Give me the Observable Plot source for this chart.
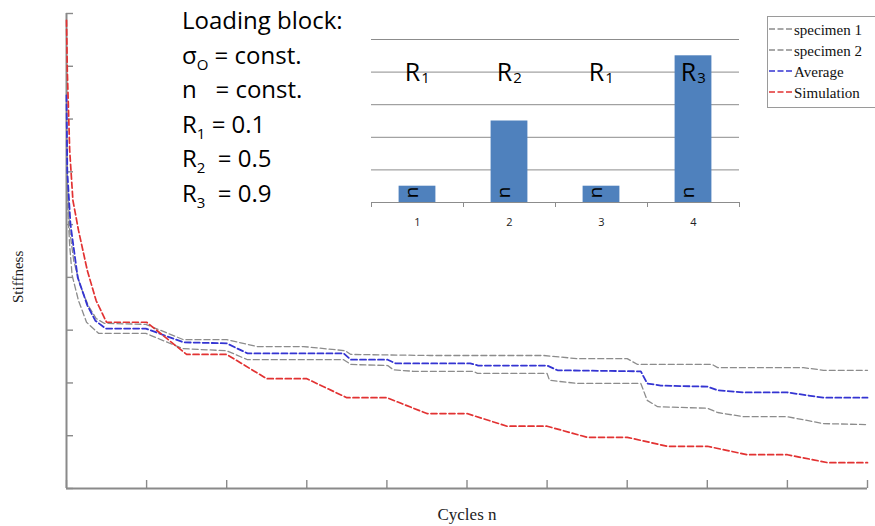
<!DOCTYPE html>
<html>
<head>
<meta charset="utf-8">
<script src="https://cdn.jsdelivr.net/npm/d3@7"></script>
<script src="https://cdn.jsdelivr.net/npm/@observablehq/plot@0.6"></script>
<style>
  html, body { margin: 0; padding: 0; background: #fff; overflow: hidden; }
  #wrap { position: relative; width: 875px; height: 526px; overflow: hidden; }
  #main { position: absolute; left: 0; top: 0; }
  #inset { position: absolute; left: 361px; top: 30px; }
  #inset svg, #main svg { display: block; }
  #note { position: absolute; left: 182px; top: 3px; font-family: 'Open Sans', sans-serif; font-size: 24px; line-height: 34.6px; white-space: pre; color: #000; }
  #note sub { font-size: 15px; vertical-align: -6px; line-height: 0; }
  #legend { position: absolute; left: 767px; top: 16px; width: 130px; height: 87px; border: 1px solid #9a9a9a; background: #fff; font-family: 'Liberation Serif', serif; font-size: 15px; line-height: 21px; padding-top: 3px; color: #111; }
  #legend .row { white-space: nowrap; padding-left: 1px; }
  #legend svg { vertical-align: 4px; margin-right: 1px; }
</style>
</head>
<body>
<div id="wrap">
  <div id="main"></div>
  <div id="note"></div>
  <div id="inset"></div>
  <div id="legend"></div>
</div>
<script>
// ---- main chart data (x: cycles n, y: stiffness, arbitrary units) ----
const xTicks = [0, 1, 2, 3, 4, 5, 6, 7, 8, 9, 10];
const yTicks = [0, 1, 2, 3, 4, 5, 6, 7, 8, 9];

const seriesNames = ["specimen 1", "specimen 2", "Average", "Simulation"];
const seriesColors = ["#8c8c8c", "#8c8c8c", "#3434d2", "#e23232"];

const cyclesS1 = [0, 0.01, 0.04, 0.09, 0.17, 0.27, 0.37, 0.47, 0.99, 1.46, 2.0, 2.38, 2.96, 3.48, 3.55, 4.54, 5.96, 6.38, 7.0, 7.13, 8.06, 8.13, 9.2, 9.45, 10];
const stiffS1  = [6.97, 5.84, 4.89, 4.32, 3.85, 3.47, 3.22, 3.13, 3.11, 2.82, 2.82, 2.69, 2.69, 2.61, 2.54, 2.52, 2.52, 2.46, 2.46, 2.35, 2.35, 2.29, 2.29, 2.24, 2.24];

const cyclesS2 = [0, 0.01, 0.04, 0.07, 0.15, 0.25, 0.40, 0.99, 1.45, 2.0, 2.26, 3.46, 3.55, 4.01, 4.08, 4.33, 5.08, 5.13, 6.0, 6.03, 6.38, 7.17, 7.25, 7.38, 8.0, 8.13, 8.45, 9.0, 9.45, 10];
const stiffS2  = [6.59, 5.46, 4.60, 4.04, 3.56, 3.15, 2.94, 2.94, 2.65, 2.61, 2.44, 2.44, 2.35, 2.33, 2.25, 2.22, 2.22, 2.18, 2.18, 2.05, 1.99, 1.99, 1.67, 1.55, 1.52, 1.44, 1.36, 1.36, 1.23, 1.21];

const cyclesAvg = [0, 0.01, 0.05, 0.14, 0.26, 0.36, 0.49, 0.99, 1.46, 2.0, 2.26, 3.46, 3.55, 4.01, 4.11, 5.04, 5.14, 6.0, 6.13, 7.17, 7.25, 7.42, 8.0, 8.13, 8.45, 9.0, 9.45, 10];
const stiffAvg  = [7.45, 6.01, 5.00, 4.00, 3.47, 3.18, 3.03, 3.03, 2.77, 2.75, 2.56, 2.56, 2.44, 2.44, 2.37, 2.37, 2.33, 2.33, 2.24, 2.22, 1.99, 1.95, 1.93, 1.86, 1.82, 1.82, 1.72, 1.72];

const cyclesSim = [0, 0.01, 0.04, 0.08, 0.15, 0.26, 0.37, 0.5, 1, 1.5, 2, 2.5, 3, 3.5, 4, 4.5, 5, 5.5, 6, 6.5, 7, 7.5, 8, 8.5, 9, 9.5, 10];
const stiffSim  = [8.87, 7.92, 6.40, 5.46, 4.89, 4.13, 3.56, 3.15, 3.15, 2.54, 2.54, 2.08, 2.08, 1.72, 1.72, 1.42, 1.42, 1.18, 1.18, 0.97, 0.97, 0.80, 0.80, 0.64, 0.64, 0.49, 0.49];

// ---- inset (loading block) data ----
const blocks = [1, 2, 3, 4];
const blockLoads = [0.5, 2.5, 0.5, 4.5];
const blockR = ["1", "2", "1", "3"];
const insetGrid = [1, 2, 3, 4, 5];
const insetEdges = [0.5, 1.5, 2.5, 3.5, 4.5];

// ---- annotation text ----
const noteLines = ["Loading block:", "σ<sub>O</sub> = const.", "n   = const.", "R<sub>1</sub> = 0.1", "R<sub>2</sub>  = 0.5", "R<sub>3</sub>  = 0.9"];

const toRows = (name, xs, ys) => xs.map((x, i) => ({name, x, y: ys[i]}));
const rowsS1 = toRows(seriesNames[0], cyclesS1, stiffS1);
const rowsS2 = toRows(seriesNames[1], cyclesS2, stiffS2);
const rowsAvg = toRows(seriesNames[2], cyclesAvg, stiffAvg);
const rowsSim = toRows(seriesNames[3], cyclesSim, stiffSim);

const axisColor = "#8a8a8a";
const dash = "6,3";

const chart = Plot.plot({
  width: 875, height: 526,
  marginLeft: 66, marginRight: 8, marginTop: 13, marginBottom: 38,
  style: {fontFamily: "'Liberation Serif', serif", fontSize: "15px", background: "transparent", color: "#222"},
  x: {domain: [0, 10]},
  y: {domain: [0, 9]},
  marks: [
    Plot.axisX({ticks: xTicks, tickSize: -8, tickFormat: () => "", stroke: axisColor, strokeWidth: 1.4, label: null}),
    Plot.axisY({ticks: yTicks, tickSize: -7, tickFormat: () => "", stroke: axisColor, strokeWidth: 1.4, label: null}),
    Plot.ruleX([0], {stroke: axisColor, strokeWidth: 2}),
    Plot.ruleY([0], {stroke: axisColor, strokeWidth: 2}),
    Plot.line([...rowsS1, ...rowsS2], {x: "x", y: "y", z: "name", stroke: seriesColors[0], strokeWidth: 1.3, strokeDasharray: dash}),
    Plot.line(rowsAvg, {x: "x", y: "y", stroke: seriesColors[2], strokeWidth: 1.8, strokeDasharray: dash}),
    Plot.line(rowsSim, {x: "x", y: "y", stroke: seriesColors[3], strokeWidth: 1.7, strokeDasharray: dash}),
    Plot.text(["Cycles n"], {text: d => d, frameAnchor: "bottom", dy: 31, fontSize: 17, fill: "#222"}),
    Plot.text(["Stiffness"], {text: d => d, frameAnchor: "left", rotate: -90, dx: -48, dy: 52, fontSize: 15, fill: "#222"})
  ]
});
document.getElementById("main").appendChild(chart);

const blockRows = blocks.map((b, i) => ({block: b, load: blockLoads[i], r: blockR[i]}));
const insetColor = "#8c8c8c";
const inset = Plot.plot({
  width: 388, height: 205,
  marginLeft: 10, marginRight: 10, marginTop: 9, marginBottom: 33,
  style: {fontFamily: "'Open Sans', sans-serif", background: "transparent", color: "#222"},
  x: {domain: [0.5, 4.5]},
  y: {domain: [0, 5], axis: null},
  marks: [
    Plot.ruleY(insetGrid, {stroke: insetColor, strokeWidth: 1}),
    Plot.rectY(blockRows, {x1: d => d.block - 0.2, x2: d => d.block + 0.2, y: "load", fill: "#4f81bd"}),
    Plot.ruleY([0], {stroke: insetColor, strokeWidth: 1.2}),
    Plot.axisX({ticks: insetEdges, tickSize: 5, tickFormat: () => "", stroke: insetColor, label: null}),
    Plot.axisX({ticks: blocks, tickSize: 0, tickPadding: 16, fontSize: 11, tickFormat: d => String(d), label: null}),
    Plot.text(blockRows, {x: "block", text: () => "R", frameAnchor: "top", dx: -5, dy: 24, fontSize: 25, fill: "#000"}),
    Plot.text(blockRows, {x: "block", text: "r", frameAnchor: "top", dx: 8, dy: 33, fontSize: 15, fill: "#000"}),
    Plot.text(blockRows, {x: "block", text: () => "n", frameAnchor: "bottom", dy: -10, rotate: -90, fontSize: 19, fill: "#000"})
  ]
});
document.getElementById("inset").appendChild(inset);

document.getElementById("note").innerHTML = noteLines.join("\n");

const legend = document.getElementById("legend");
const svgNS = "http://www.w3.org/2000/svg";
seriesNames.forEach((name, i) => {
  const row = document.createElement("div");
  row.className = "row";
  const s = document.createElementNS(svgNS, "svg");
  s.setAttribute("width", "24");
  s.setAttribute("height", "4");
  const ln = document.createElementNS(svgNS, "line");
  ln.setAttribute("x1", "0"); ln.setAttribute("x2", "24");
  ln.setAttribute("y1", "2"); ln.setAttribute("y2", "2");
  ln.setAttribute("stroke", seriesColors[i]);
  ln.setAttribute("stroke-width", "1.3");
  ln.setAttribute("stroke-dasharray", "6,2.5");
  s.appendChild(ln);
  row.appendChild(s);
  row.appendChild(document.createTextNode(name));
  legend.appendChild(row);
});
</script>
</body>
</html>
